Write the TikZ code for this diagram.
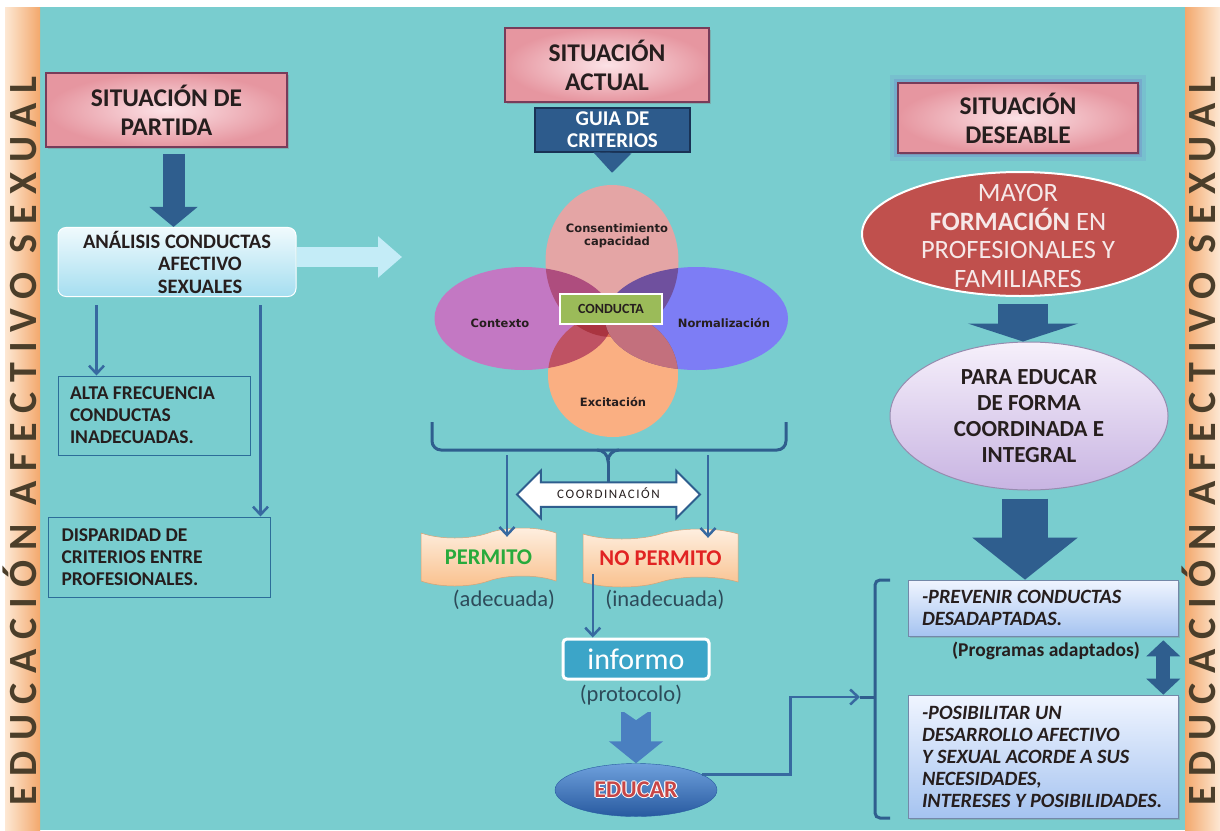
\documentclass[tikz,border=0pt]{standalone}
\usepackage{fontspec}
\setmainfont{Carlito}
\newfontfamily\vennfont{DejaVu Sans}
\newfontfamily\stripfont[LetterSpace=25]{Carlito}
\newfontfamily\coordfont[LetterSpace=12]{Carlito}
\usetikzlibrary{shapes.geometric,shapes.arrows,shapes.symbols,arrows.meta,shadows}

\definecolor{tealbg}{RGB}{121,205,207}
\definecolor{stripin}{RGB}{253,232,212}
\definecolor{stripout}{RGB}{243,168,108}
\definecolor{striptext}{RGB}{75,62,42}
\definecolor{navy}{RGB}{47,94,142}
\definecolor{linkblue}{RGB}{55,105,160}
\definecolor{pinkin}{RGB}{252,226,230}
\definecolor{pinkout}{RGB}{230,150,160}
\definecolor{pinkedge}{RGB}{120,60,90}
\definecolor{inkdark}{RGB}{38,30,30}
\definecolor{skytop}{RGB}{240,250,253}
\definecolor{skybot}{RGB}{165,222,240}
\definecolor{paleblue}{RGB}{196,236,247}
\definecolor{guiafill}{RGB}{45,91,140}
\definecolor{guiaedge}{RGB}{25,50,85}
\definecolor{vpink}{RGB}{228,165,165}
\definecolor{vpurple}{RGB}{195,120,195}
\definecolor{vblue}{RGB}{125,125,245}
\definecolor{vpeach}{RGB}{250,175,130}
\definecolor{vmauve}{RGB}{195,112,125}
\definecolor{vgreen}{RGB}{155,187,89}
\definecolor{bantop}{RGB}{254,240,226}
\definecolor{banbot}{RGB}{249,192,140}
\definecolor{okgreen}{RGB}{40,170,60}
\definecolor{nored}{RGB}{225,35,35}
\definecolor{infofill}{RGB}{60,165,200}
\definecolor{edutop}{RGB}{110,160,220}
\definecolor{edubot}{RGB}{40,90,160}
\definecolor{edured}{RGB}{200,70,70}
\definecolor{midblue}{RGB}{74,127,192}
\definecolor{mayorred}{RGB}{192,80,77}
\definecolor{mayortext}{RGB}{246,232,232}
\definecolor{lavtop}{RGB}{246,240,251}
\definecolor{lavbot}{RGB}{200,180,226}
\definecolor{lavedge}{RGB}{150,140,175}
\definecolor{goaltop}{RGB}{240,245,255}
\definecolor{goalbot}{RGB}{165,195,240}
\definecolor{glow}{RGB}{110,100,200}
\definecolor{graytext}{RGB}{45,75,90}

\newcommand{\leftlines}[2]{\parbox{#1}{\raggedright #2}}
\newcommand{\halo}[1]{\leavevmode\rlap{\color{white}\kern1.2pt #1}\rlap{\color{white}\kern-1.2pt #1}%
  \rlap{\color{white}\raisebox{1.2pt}{#1}}\rlap{\color{white}\raisebox{-1.2pt}{#1}}#1}

\tikzset{
        titlebox/.style={rectangle, draw=pinkedge, line width=1.6pt, inner color=pinkin, outer color=pinkout, text=inkdark,
          font=\fontsize{25.5}{29}\selectfont\bfseries, align=center, drop shadow={shadow xshift=2pt, shadow yshift=-2pt, opacity=0.4}},
        glowing/.style={preaction={draw=glow, line width=16pt, draw opacity=0.12},
          preaction={draw=glow, line width=8pt, draw opacity=0.22}},
        softbox/.style={rectangle, rounded corners=8pt, top color=skytop, bottom color=skybot, draw=white, line width=1pt,
          text=inkdark, font=\fontsize{20.5}{22.5}\selectfont\bfseries, align=center},
        outbox/.style={rectangle, draw=linkblue!80!teal, line width=1pt, text=inkdark, font=\fontsize{19.5}{22}\selectfont\bfseries},
        guiabox/.style={rectangle, fill=guiafill, draw=guiaedge, line width=2pt, text=white, font=\fontsize{21}{22}\selectfont\bfseries, align=center},
        venn/.style={ellipse, inner sep=0pt},
        vennlabel/.style={font=\vennfont\fontsize{11.5}{13.5}\selectfont\bfseries, text=inkdark, align=center},
        conductabox/.style={rectangle, fill=vgreen, draw=white, line width=1.5pt, text=inkdark, font=\fontsize{14}{15}\selectfont\bfseries},
        brace/.style={draw=navy, line width=3pt},
        thinarrow/.style={draw=linkblue, line width=2.5pt, -{Straight Barb[length=8pt,width=15pt]}},
        fatarrow/.style n args={3}{draw=navy, line width=#1, -{Triangle[length=#2,width=#3]}},
        coordarrow/.style={double arrow, double arrow head extend=11.5pt, minimum height=183pt, fill=white, draw=navy, line width=2pt,
          text=inkdark, font=\coordfont\fontsize{13}{14}\selectfont, inner ysep=7pt, text height=8.5pt, text depth=0pt},
        banner/.style={tape, tape bend top=in and out, tape bend bottom=in and out, tape bend height=10pt, top color=bantop,
          bottom color=banbot, draw=banbot!85!black, line width=0.5pt, font=\fontsize{22.5}{24}\selectfont\bfseries},
        note/.style={text=graytext, font=\fontsize{22.5}{24}\selectfont},
        infobox/.style={rectangle, rounded corners=4pt, fill=infofill, draw=white, line width=3pt, text=white, font=\fontsize{30}{30}\selectfont},
        eduell/.style={ellipse, top color=edutop, bottom color=edubot, draw=edubot, text=edured, font=\fontsize{24}{24}\selectfont\bfseries},
        mayorell/.style={ellipse, fill=mayorred, draw=white, line width=2pt},
        paraell/.style={ellipse, inner sep=0pt, top color=lavtop, bottom color=lavbot, draw=lavedge, line width=1pt, text=inkdark,
          font=\fontsize{23}{26}\selectfont\bfseries, align=center},
        goalbox/.style={rectangle, top color=goaltop, bottom color=goalbot, draw=goalbot!70!black, line width=0.6pt, text=inkdark,
          font=\fontsize{20.3}{22}\selectfont\bfseries\itshape, inner xsep=14pt, drop shadow={shadow xshift=1.5pt, shadow yshift=-1.5pt, opacity=0.3}},
        striptxt/.style={font=\stripfont\fontsize{40}{40}\selectfont\bfseries, text=striptext, inner sep=0pt, text height=26pt, text depth=0pt}
          }

\begin{document}
\begin{tikzpicture}[x=1pt, y=-1pt]
        \useasboundingbox (0,0) rectangle (1220,830);
        % background and side strips
        \fill[tealbg] (40,7) rectangle (1185,830);
        \shade[left color=stripin, right color=stripout] (5,7) rectangle (40,830);
        \shade[left color=stripout, right color=stripin] (1185,7) rectangle (1220,830);
        \node[striptxt, rotate=90] (lstrip) at (23,441) {EDUCACIÓN AFECTIVO SEXUAL};
        \node[striptxt, rotate=90] (rstrip) at (1202,441) {EDUCACIÓN AFECTIVO SEXUAL};

        % left column
        \node[titlebox, minimum width=241, minimum height=74] (partida) at (166.5,110) {SITUACIÓN DE\\PARTIDA};
        \node[softbox, minimum width=238, minimum height=69] (analisis) at (177,262)
          {ANÁLISIS CONDUCTAS\\\hspace*{46pt}AFECTIVO\\\hspace*{46pt}SEXUALES};
        \node[outbox, minimum width=192, minimum height=79, inner xsep=12pt] (alta) at (154,415.5)
          {\leftlines{168pt}{ALTA FRECUENCIA\\CONDUCTAS\\INADECUADAS.}};
        \node[outbox, minimum width=222, minimum height=80, inner xsep=13.5pt] (dispar) at (159,557)
          {\leftlines{195pt}{DISPARIDAD DE\\CRITERIOS ENTRE\\PROFESIONALES.}};
        \coordinate (vennin) at (402,257);
        \draw[fatarrow={22pt}{20pt}{47pt}, shorten <=6pt] ([xshift=7pt]partida.south) -- ([xshift=7pt]partida.south |- analisis.north);
        \draw[fatarrow={20pt}{24pt}{40pt}, draw=paleblue] ([yshift=5pt]analisis.east) -- (vennin);
        \draw[thinarrow, shorten <=8pt] ([xshift=39pt]analisis.south west) -- ([xshift=39pt]alta.north west);
        \draw[thinarrow, shorten <=8pt] ([xshift=-36pt]analisis.south east) -- ([xshift=-36pt]analisis.south east |- dispar.north);

        % middle column
        \node[titlebox, minimum width=204, minimum height=74] (actual) at (607,65) {SITUACIÓN\\ACTUAL};
        \node[guiabox, minimum width=155, minimum height=44] (guia) at (612.5,130) {GUIA DE\\CRITERIOS};
        \begin{scope}[blend group=multiply]
          \node[venn, fill=vpink, minimum width=133, minimum height=152] (cons) at (612,261) {};
          \node[venn, fill=vpurple, minimum width=178, minimum height=103] (ctx) at (523.5,318.5) {};
          \node[venn, fill=vblue, minimum width=183, minimum height=103] (norm) at (696.5,318.5) {};
          \node[venn, fill=vpeach, minimum width=130, minimum height=124] (exc) at (613,375) {};
        \end{scope}
        \begin{scope}
          \clip (696.5,318.5) ellipse [x radius=91.5, y radius=51.5];
          \fill[vmauve] (613,375) ellipse [x radius=65, y radius=62];
        \end{scope}
        \draw[fatarrow={14pt}{20pt}{37pt}] (guia.south) -- ([yshift=12pt]cons.north);
        \node[vennlabel] (lcons) at (617,236) {Consentimiento\\capacidad};
        \node[vennlabel] (lctx) at (500,323) {Contexto};
        \node[vennlabel] (lnorm) at (724,323) {Normalización};
        \node[vennlabel] (lexc) at (613,402) {Excitación};
        \node[conductabox, minimum width=102, minimum height=30] (conducta) at (611,309) {CONDUCTA};

        \coordinate (brL) at (432,422);
        \coordinate (brR) at (786,422);
        \coordinate (brM) at (608,483);
        \draw[brace, rounded corners=9pt] (brL) -- (432,450) -- (786,450) -- (brR);
        \draw[brace] (597,450) to[out=0, in=90] (brM |- 0,461) to[out=90, in=180] (619,450);
        \draw[brace] (brM |- 0,461) -- (brM);
        \node[coordarrow] (coord) at (608.5,494.5) {COORDINACIÓN};
        \node[banner, minimum width=135, minimum height=58, text=okgreen] (permito) at (488.5,557) {PERMITO};
        \node[banner, minimum width=155, minimum height=58, text=nored] (nopermito) at (660.5,558) {NO PERMITO};
        \coordinate (bl) at (507,455);
        \coordinate (br) at (708,455);
        \draw[thinarrow] (bl) -- ([yshift=-4pt]bl |- permito.north);
        \draw[thinarrow] (br) -- ([yshift=-4pt]br |- nopermito.north);
        \node[note] (adec) at (504,600) {(adecuada)};
        \node[note] (inadec) at (665,600) {(inadecuada)};
        \node[infobox, minimum width=146, minimum height=40] (informo) at (636,659) {informo};
        \draw[thinarrow] ([xshift=10pt, yshift=8pt]nopermito.south west) -- ([xshift=10pt]nopermito.south west |- informo.north);
        \node[note] (protocolo) at (631,695) {(protocolo)};
        \node[eduell, minimum width=162, minimum height=53] (educar) at (636,790) {\halo{EDUCAR}};
        \draw[fatarrow={30pt}{22pt}{53pt}, draw=midblue, shorten <=3pt] (protocolo.south -| educar) -- (educar.north);
        \fill[tealbg] (620,709) -- (652,709) -- (636,720) -- cycle;

        % right column
        \node[titlebox, glowing, minimum width=240, minimum height=70] (deseable) at (1018,118) {SITUACIÓN\\DESEABLE};
        \node[mayorell, minimum width=316, minimum height=124] (mayor) at (1020,234) {};
        \node[text=mayortext, font=\fontsize{26.5}{28.5}\selectfont, align=center] (mayortxt) at (1018,236)
          {MAYOR\\\textbf{FORMACIÓN} EN\\PROFESIONALES Y\\FAMILIARES};
        \node[paraell, minimum width=278, minimum height=148] (para) at (1029,416)
          {PARA EDUCAR\\DE FORMA\\COORDINADA E\\INTEGRAL};
        \node[goalbox, minimum width=270, minimum height=56] (prevenir) at (1043,608)
          {\leftlines{242pt}{-PREVENIR CONDUCTAS\\DESADAPTADAS.}};
        \node[goalbox, minimum width=270, minimum height=123] (posib) at (1043,756.5)
          {\leftlines{242pt}{-POSIBILITAR UN\\DESARROLLO AFECTIVO\\Y SEXUAL ACORDE A SUS\\NECESIDADES,\\INTERESES Y POSIBILIDADES.}};
        \node[text=inkdark, font=\fontsize{19.5}{20}\selectfont\bfseries] (programas) at (1046,651) {(Programas adaptados)};
        \draw[fatarrow={50pt}{18pt}{110pt}, shorten <=7pt] ([xshift=3pt]mayor.south) -- ([xshift=3pt]mayor.south |- para.north);
        \draw[fatarrow={46pt}{42pt}{103pt}, shorten <=8pt] ([xshift=-4pt]para.south) -- ([xshift=-4pt]para.south |- prevenir.north);
        \draw[draw=navy, line width=14pt, {Triangle[length=16pt,width=33pt]}-{Triangle[length=16pt,width=33pt]}, shorten <=4pt]
          ([xshift=-15pt]prevenir.south east) -- ([xshift=-15pt]posib.north east);

        \coordinate (gbr) at (860,697);
        \draw[brace, rounded corners=5pt] (890,580) -- (875,580) -- (875,818) -- (890,818);
        \draw[brace] (875,697) -- (gbr);
        \draw[thinarrow] (educar.13) -- ++(88,0) |- (gbr);
      \end{tikzpicture}
\end{document}
